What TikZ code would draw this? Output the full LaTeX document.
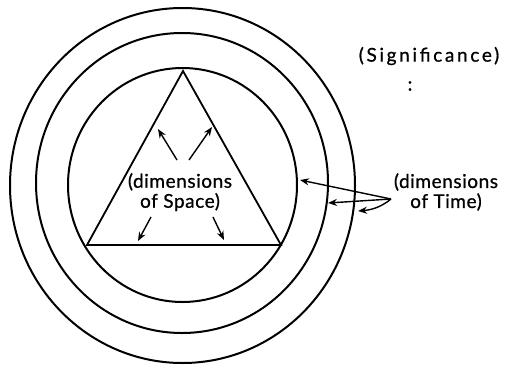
\documentclass[tikz,border=0pt]{standalone}
\usepackage{fontspec}
\setmainfont{Lato}[LetterSpace=3,FakeBold=0.8]
\newfontfamily\sigfont{Lato}[LetterSpace=14,FakeBold=0.8]
\usetikzlibrary{arrows.meta}
\begin{document}
\begin{tikzpicture}[x=1pt,y=-1pt,
  ring/.style={line width=2pt},
  tri/.style={line width=1.8pt},
  arr/.style={line width=1.4pt,-{Stealth[length=9pt,width=7pt]}},
  lbl/.style={font=\fontsize{19}{20}\selectfont,align=center,inner sep=0pt}]
\useasboundingbox (0,0) rectangle (509,365);
\draw[ring] (182.5,185.5) ellipse [x radius=172.5,y radius=177.5];
\draw[ring] (182,183) ellipse [x radius=146,y radius=150];
\draw[ring] (182.5,185) ellipse [x radius=114.5,y radius=117];
\coordinate (A) at (183,71);
\coordinate (B) at (87,245);
\coordinate (C) at (281,245);
\draw[tri] (A) -- (B) -- (C) -- cycle;
\node[lbl] (space) at (180,192) {(dimensions\\ of Space)};
\coordinate (s1) at (158,129);
\coordinate (s2) at (212,127);
\coordinate (s3) at (138,241);
\coordinate (s4) at (224,240);
\draw[arr] (177,160) -- (s1);
\draw[arr] (189,160) -- (s2);
\draw[arr] (151,217) -- (s3);
\draw[arr] (213,217) -- (s4);
\node[lbl] (time) at (446,192) {(dimensions\\ of Time)};
\coordinate (tb) at (391,199);
\coordinate (t1) at (300,180);
\coordinate (t2) at (328,203);
\coordinate (t3) at (358,211);
\draw[arr] (tb) -- (t1);
\draw[arr] (tb) -- (t2);
\draw[arr] (tb) .. controls (380,208) and (370,210) .. (t3);
\node[lbl,font=\fontsize{19}{20}\selectfont\sigfont] (sig) at (429,56) {(Significance)};
\node[lbl] (colon) at (410,86) {:};
\end{tikzpicture}
\end{document}
